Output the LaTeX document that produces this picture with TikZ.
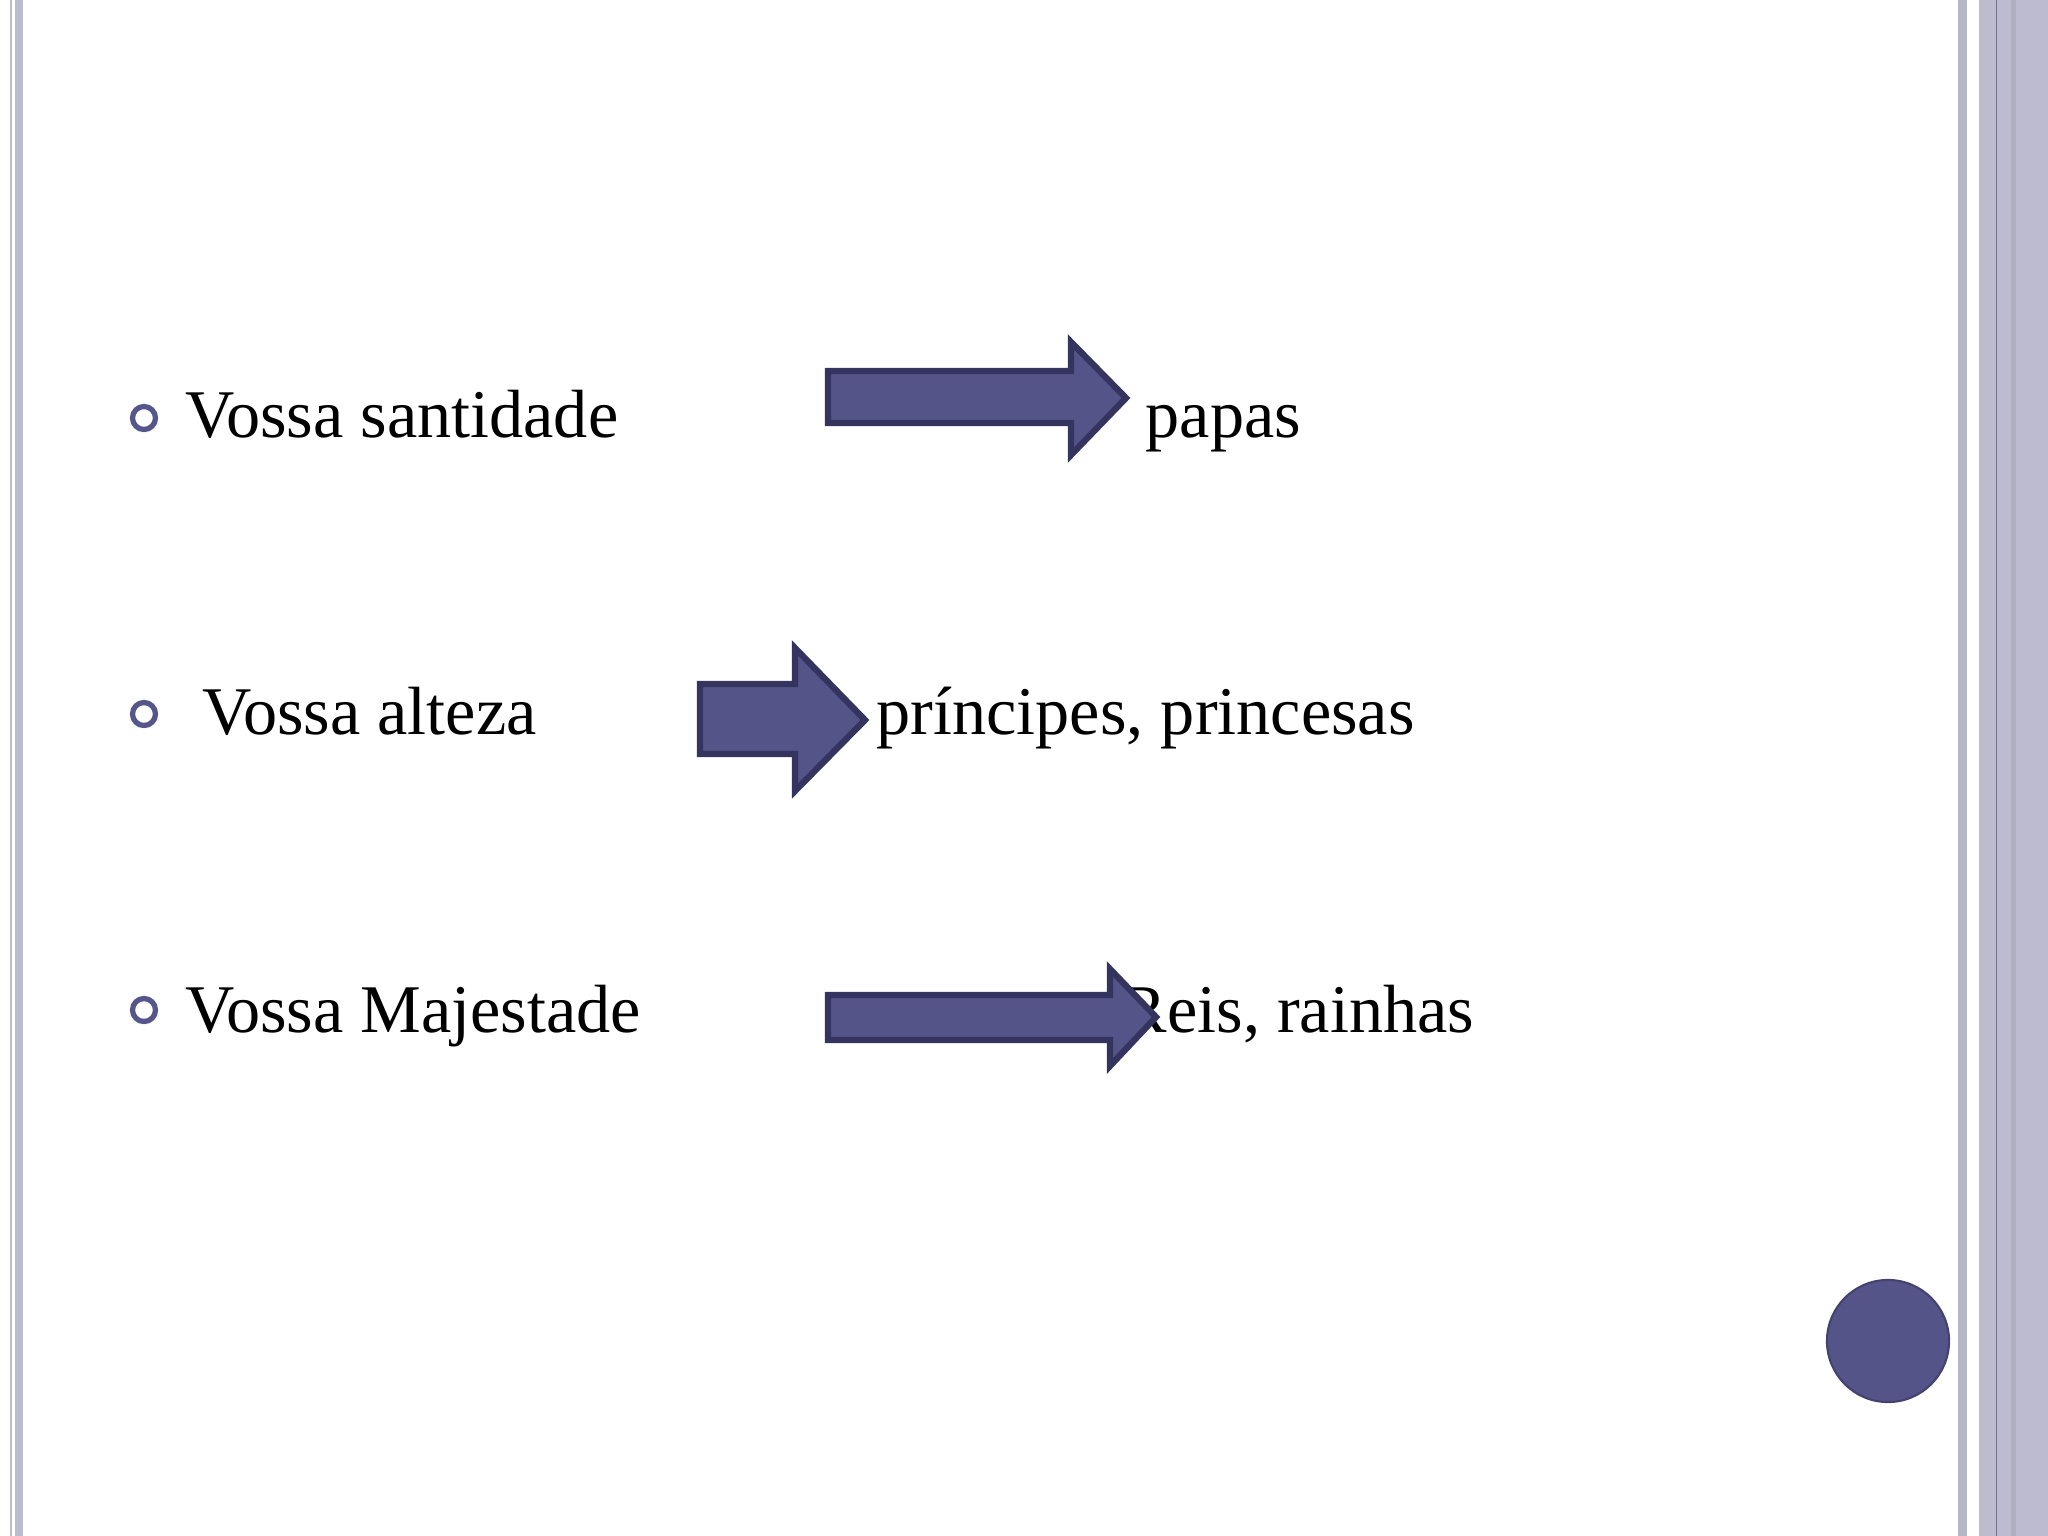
\documentclass[tikz,border=0pt]{standalone}
\usepackage{fontspec}
\setmainfont{Liberation Serif}
\begin{document}
\begin{tikzpicture}[x=0.01cm,y=-0.01cm,
  txt/.style={anchor=base west,inner sep=0pt,font=\fontsize{19.4}{23}\selectfont},
  bul/.style={circle,draw=bcol,line width=1.5pt,minimum size=0.23cm,inner sep=0pt},
  arr/.style={fill=acol,draw=aline,line width=1.8pt,line join=miter}]
\definecolor{bcol}{HTML}{56558C}
\definecolor{acol}{HTML}{555489}
\definecolor{aline}{HTML}{35345F}
\definecolor{lav}{HTML}{BDBBCF}
\definecolor{gstr}{HTML}{B7B6C6}
\useasboundingbox (0,0) rectangle (2048,1536);
\fill[white] (0,0) rectangle (2048,1536);
% left stripes
\fill[lav] (10,0) rectangle (12,1536);
\fill[lav] (15,0) rectangle (23,1536);
% right stripes
\fill[gstr] (1958,0) rectangle (1967,1536);
\fill[lav] (1979,0) rectangle (2048,1536);
\fill[aline!70] (1995.5,0) rectangle (1997,1536);
\fill[gstr!110] (2011,0) rectangle (2016,1536);
% rows
\node[bul] (b1) at (144,418) {};
\node[bul] (b2) at (144,714) {};
\node[bul] (b3) at (144,1010) {};
\node[txt] (t1) at (185,437) {Vossa santidade};
\node[txt] (t2) at (202,734) {Vossa alteza};
\node[txt] (t3) at (185,1032) {Vossa Majestade};
\node[txt] (r1) at (1145,437) {papas};
\node[txt] (r2) at (876,734) {príncipes, princesas};
\node[txt] (r3) at (1121,1032) {Reis, rainhas};
\draw[arr] (828,371) -- (1071,371) -- (1071,342) -- (1126,398) -- (1071,455) -- (1071,423) -- (828,423) -- cycle;
\draw[arr] (700,684) -- (795,684) -- (795,648) -- (865,720) -- (795,791) -- (795,754) -- (700,754) -- cycle;
\draw[arr] (828,995) -- (1110,995) -- (1110,969) -- (1156,1017) -- (1110,1066) -- (1110,1040) -- (828,1040) -- cycle;
\node[circle,fill=acol,draw=acol!80!black,line width=0.6pt,minimum size=1.22cm,inner sep=0pt] (c) at (1888,1341) {};
\end{tikzpicture}
\end{document}
